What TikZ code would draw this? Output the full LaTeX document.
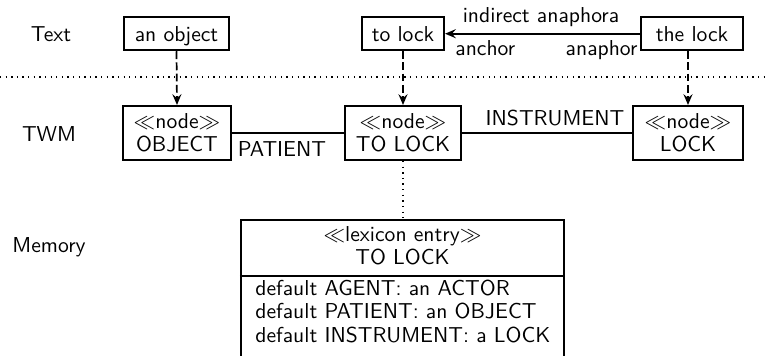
\documentclass[tikz,border=0pt]{standalone}
\usetikzlibrary{arrows.meta}
\begin{document}
\begin{tikzpicture}[x=0.463pt, y=-0.463pt,
  font=\sffamily,
  box/.style={draw, line width=0.95pt, inner sep=0pt, align=center},
  wordbox/.style={box, minimum height=15.3pt, text height=7pt, text depth=0pt},
  wmbox/.style={box, minimum height=25pt},
  lbl/.style={inner sep=0pt, anchor=base},
  link/.style={line width=0.65pt},
  tip/.style={-{Stealth[length=5pt,width=4.2pt,inset=1.8pt]}},
  refer/.style={tip, line width=0.8pt, dash pattern=on 3.6pt off 1.6pt},
  layer/.style={dotted, line width=0.6pt},
]
\useasboundingbox (0,0) rectangle (765,356);

% layer names
\node[lbl] (rowtext) at (51,42) {Text};
\node[lbl] (rowtwm)  at (49,141) {TWM};
\node[lbl] (rowmem)  at (49,252) {Memory};

% boundary between text and working memory
\coordinate (sepL) at (0,77);
\coordinate (sepR) at (765,77);
\draw[layer] (sepL) -- (sepR);

% words of the text
\node[wordbox, minimum width=48.6pt] (wobject) at (176.5,33.7) {an object};
\node[wordbox, minimum width=38pt]   (wtolock) at (403,33.7) {to lock};
\node[wordbox, minimum width=47.2pt] (wthelock) at (692,33.7) {the lock};

% indirect anaphora between the words
\draw[tip, line width=0.9pt] (wthelock) -- (wtolock);
\node[lbl] (lindirect) at (541,22.5) {indirect anaphora};
\node[lbl, anchor=base west] (lanchor) at (455,56) {anchor};
\node[lbl, anchor=base east] (lanaphor) at (638,56) {anaphor};

% nodes in working memory
\node[wmbox, minimum width=50pt] (nobject) at (177,133) {$\ll$node$\gg$\\[-1.35pt]OBJECT};
\node[wmbox, minimum width=53.7pt] (ntolock) at (403,133) {$\ll$node$\gg$\\[-1.35pt]TO LOCK};
\node[wmbox, minimum width=51pt] (nlock) at (688,133) {$\ll$node$\gg$\\[-1.35pt]LOCK};

\draw[link] (nobject) -- (ntolock);
\draw[link] (ntolock) -- (nlock);
\node[lbl] (lpatient) at (282,157) {PATIENT};
\node[lbl] (linstrument) at (555,126) {INSTRUMENT};

% words refer to working-memory nodes
\draw[refer] (wobject.south) -- (nobject.north);
\draw[refer] (wtolock.south) -- (ntolock.north);
\draw[refer] (wthelock.south -| nlock.north) -- (nlock.north);

% lexicon entry in long-term memory (runs past the lower edge)
\node[box, minimum width=149.6pt, minimum height=64.4pt] (mem) at (402.5,289.5) {};
\coordinate (memsep) at (402.5,276);
\draw[line width=0.95pt] (mem.west |- memsep) -- (mem.east |- memsep);
\node[lbl] (memhead) at (402.5,241) {$\ll$lexicon entry$\gg$};
\node[lbl] (memname) at (402.5,265) {TO LOCK};
\node[lbl, anchor=base west] (slotagent) at (255,295) {default AGENT: an ACTOR};
\node[lbl, anchor=base west] (slotpatient) at (255,318.5) {default PATIENT: an OBJECT};
\node[lbl, anchor=base west] (slotinstr) at (255,342) {default INSTRUMENT: a LOCK};

\draw[layer] (ntolock.south) -- (ntolock.south |- mem.north);
\end{tikzpicture}
\end{document}
